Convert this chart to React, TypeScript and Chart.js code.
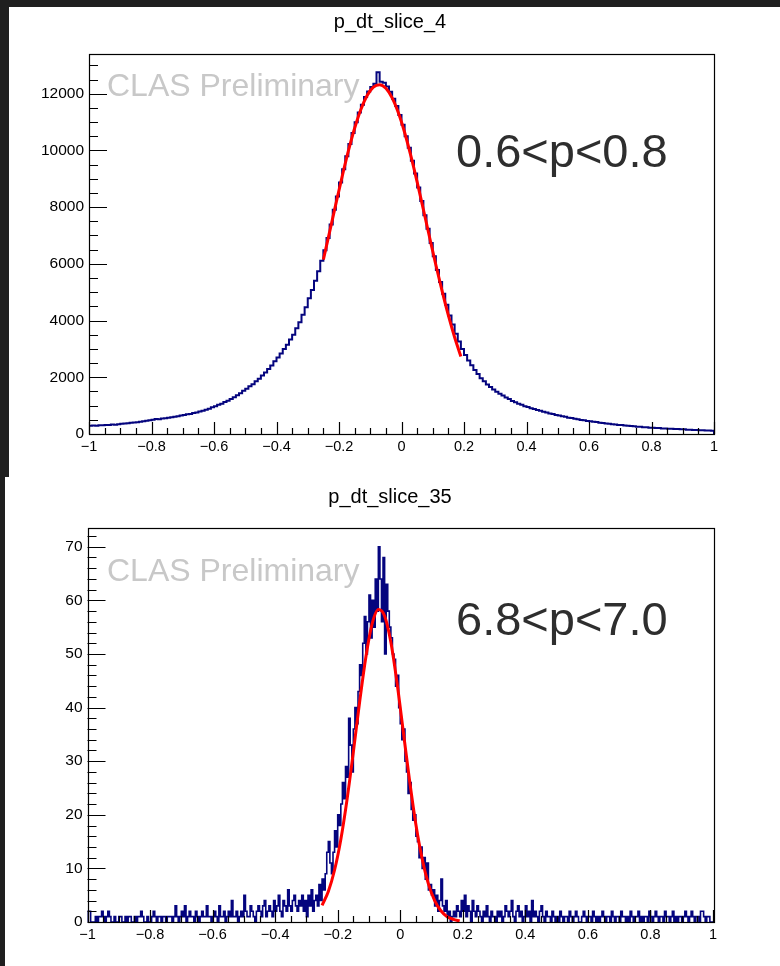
import React, { useEffect, useRef } from "react";
import { Chart, registerables } from "chart.js";

Chart.register(...registerables);

// ---------- data ----------
const X_MIN = -1;
const X_MAX = 1;
const xTickValues = [-1, -0.8, -0.6, -0.4, -0.2, 0, 0.2, 0.4, 0.6, 0.8, 1];

const topTitle = "p_dt_slice_4";
const bottomTitle = "p_dt_slice_35";
const topRangeLabel = "0.6<p<0.8";
const bottomRangeLabel = "6.8<p<7.0";
const watermark = "CLAS Preliminary";

const topYTickValues = [0, 2000, 4000, 6000, 8000, 10000, 12000];
const bottomYTickValues = [0, 10, 20, 30, 40, 50, 60, 70];
const topYMax = 13400;
const bottomYMax = 73.5;

// top histogram: 200 bins from -1 to 1
const topCounts = [
  288, 302, 295, 312, 306, 321, 314, 333, 327, 348,
  358, 371, 383, 394, 405, 418, 433, 451, 466, 489,
  503, 527, 519, 546, 558, 575, 588, 608, 627, 650,
  668, 693, 709, 738, 756, 793, 818, 853, 892, 942,
  982, 1034, 1068, 1128, 1176, 1238, 1297, 1369, 1436, 1522,
  1598, 1684, 1755, 1856, 1946, 2063, 2166, 2296, 2414, 2565,
  2702, 2838, 2996, 3143, 3328, 3502, 3726, 3944, 4208, 4474,
  4783, 5076, 5408, 5742, 6112, 6476, 6908, 7392, 7908, 8376,
  8866, 9332, 9798, 10226, 10618, 10992, 11338, 11612, 11886, 12074,
  12238, 12352, 12760, 12418, 12386, 12254, 12068, 11822, 11568, 11246,
  10906, 10502, 10098, 9634, 9188, 8694, 8216, 7712, 7238, 6736,
  6268, 5784, 5356, 4944, 4558, 4176, 3858, 3534, 3266, 2998,
  2786, 2594, 2428, 2254, 2116, 1964, 1856, 1744, 1656, 1566,
  1492, 1418, 1356, 1284, 1236, 1166, 1124, 1066, 1028, 982,
  952, 912, 884, 846, 818, 782, 758, 722, 704, 668,
  652, 622, 604, 576, 562, 536, 524, 498, 488, 462,
  452, 428, 420, 398, 392, 372, 362, 344, 338, 318,
  316, 298, 294, 278, 274, 258, 254, 240, 238, 224,
  224, 212, 212, 198, 198, 186, 186, 174, 174, 164,
  164, 154, 152, 144, 142, 132, 130, 122, 120, 112,
];

// bottom histogram: 400 bins from -1 to 1
const bottomCounts = [
  // -1.00 .. -0.32
  2, 2, 0, 0, 0, 1, 0, 1, 1, 2, 1, 0, 1, 2, 1, 0, 0, 1, 0, 0,
  1, 1, 0, 0, 1, 0, 1, 1, 0, 0, 1, 0, 1, 1, 2, 1, 0, 0, 1, 0,
  0, 1, 2, 1, 0, 1, 1, 0, 1, 1, 0, 1, 1, 1, 0, 1, 3, 1, 0, 1,
  2, 1, 3, 0, 1, 2, 1, 1, 0, 2, 1, 0, 1, 2, 1, 1, 3, 1, 1, 0,
  1, 2, 1, 0, 3, 1, 1, 2, 0, 1, 2, 1, 4, 1, 1, 2, 0, 1, 2, 1,
  5, 2, 1, 1, 3, 2, 1, 0, 2, 3, 2, 1, 3, 4, 1, 2, 3, 2, 1, 4,
  2, 3, 5, 2, 1, 4, 3, 2, 6, 3, 2, 4, 5, 3, 2, 4,
  // -0.32 .. 0.32
  3, 5, 2, 4, 1, 5, 3, 6, 2, 4,
  5, 3, 7, 4, 8, 6, 9, 13, 15, 11,
  9, 13, 17, 14, 20, 18, 22, 26, 23, 29,
  27, 38, 33, 28, 36, 40, 37, 43, 48, 46,
  52, 57, 50, 56, 61, 53, 60, 55, 64, 58,
  70, 64, 56, 68, 50, 63, 58, 55, 53, 50,
  49, 44, 46, 40, 37, 34, 36, 30, 28, 24,
  26, 21, 19, 20, 16, 15, 12, 14, 10, 12,
  8, 11, 6, 7, 5, 6, 3, 5, 2, 4,
  8, 3, 2, 4, 1, 2, 0, 1, 2, 1,
  3, 2, 1, 4, 2, 5, 1, 3, 2, 0,
  4, 2, 1, 3, 2, 1, 0, 2, 1, 3,
  1, 0, 2, 1, 1, 0, 2, 1,
  // 0.32 .. 1.00
  2, 0, 1, 3, 2, 1, 2, 4, 1, 0, 2, 3, 1, 2, 0, 1,
  3, 1, 2, 0, 4, 1, 2, 1, 0, 2, 3, 1, 0, 2, 1, 1, 0, 2, 1, 0,
  1, 0, 2, 1, 0, 1, 1, 0, 2, 1, 0, 1, 2, 1, 0, 0, 1, 2, 1, 0,
  1, 1, 0, 2, 1, 0, 1, 0, 1, 2, 1, 0, 1, 1, 0, 2, 1, 0, 1, 1,
  0, 2, 1, 1, 0, 1, 0, 2, 1, 0, 1, 1, 2, 0, 1, 0, 1, 1, 0, 2,
  1, 0, 1, 2, 1, 0, 1, 1, 0, 2, 1, 1, 0, 1, 2, 0, 1, 0, 1, 1,
  0, 1, 2, 1, 0, 1, 2, 1, 0, 1, 1, 0, 2, 2, 1, 0, 1, 1, 0, 0,
];

const topFitX = [
  -0.25, -0.23, -0.21, -0.19, -0.17, -0.15, -0.13, -0.11, -0.09, -0.07, -0.05, -0.03,
  -0.01, 0.01, 0.03, 0.05, 0.07, 0.09, 0.11, 0.13, 0.15, 0.17, 0.19,
];
const topFitY = [
  6150, 7127, 8114, 9077, 9981, 10781, 11444, 11936, 12233, 12320, 12190, 11853,
  11325, 10631, 9807, 8889, 7917, 6929, 5959, 5035, 4180, 3410, 2734,
];

const bottomFitX = [
  -0.25, -0.23, -0.21, -0.19, -0.17, -0.15, -0.13, -0.11, -0.09, -0.07, -0.05, -0.03,
  -0.01, 0.01, 0.03, 0.05, 0.07, 0.09, 0.11, 0.13, 0.15, 0.17, 0.19,
];
const bottomFitY = [
  3.1, 5.7, 9.7, 15.4, 22.9, 31.7, 41.0, 49.4, 55.6, 58.3, 57.1, 52.2,
  44.5, 35.4, 26.3, 18.2, 11.8, 7.1, 4.0, 2.1, 1.0, 0.5, 0.2,
];

// ---------- styling ----------
const FONT = "'Liberation Sans', Arial, Helvetica, sans-serif";
const HIST_COLOR = "#04047e";
const FIT_COLOR = "#ff0000";
const BG_DARK = "#1f1f1f";

function histPoints(counts: number[]) {
  const n = counts.length;
  const w = (X_MAX - X_MIN) / n;
  const pts: { x: number; y: number }[] = [{ x: X_MIN, y: 0 }];
  counts.forEach((c, i) => pts.push({ x: X_MIN + i * w, y: c }));
  pts.push({ x: X_MAX, y: counts[n - 1] });
  pts.push({ x: X_MAX, y: 0 });
  return pts;
}

function fmtX(v: number) {
  const r = Math.round(v * 10) / 10;
  const s = String(Math.abs(r));
  return r < 0 ? "\u2212" + s : s;
}

type Panel = {
  pageX: number;
  pageY: number;
  width: number;
  height: number;
  padTop: number;
  padRight: number;
  yAxisW: number;
  xAxisH: number;
  counts: number[];
  histWidth: number;
  fitX: number[];
  fitY: number[];
  yMax: number;
  yTicks: number[];
  yMajor: number;
  yMinor: number;
  title: string;
  titleY: number;
  rangeLabel: string;
  rangeBaseline: number;
  markBaseline: number;
};

const panels: Panel[] = [
  {
    pageX: 9, pageY: 7, width: 771, height: 470,
    padTop: 47, padRight: 66, yAxisW: 80, xAxisH: 43,
    counts: topCounts, histWidth: 2, fitX: topFitX, fitY: topFitY,
    yMax: topYMax, yTicks: topYTickValues, yMajor: 2000, yMinor: 500,
    title: topTitle, titleY: 22, rangeLabel: topRangeLabel, rangeBaseline: 167, markBaseline: 96,
  },
  {
    pageX: 5, pageY: 477, width: 775, height: 489,
    padTop: 51, padRight: 67, yAxisW: 82.5, xAxisH: 44,
    counts: bottomCounts, histWidth: 1.6, fitX: bottomFitX, fitY: bottomFitY,
    yMax: bottomYMax, yTicks: bottomYTickValues, yMajor: 10, yMinor: 2,
    title: bottomTitle, titleY: 497, rangeLabel: bottomRangeLabel, rangeBaseline: 635, markBaseline: 581,
  },
];

function makeDecor(p: Panel) {
  return {
    id: "rootDecor",
    afterDraw(chart: any) {
      const ctx: CanvasRenderingContext2D = chart.ctx;
      const { left, right, top, bottom } = chart.chartArea;
      const xs = chart.scales.x;
      const ys = chart.scales.y;
      ctx.save();
      ctx.strokeStyle = "#000";
      ctx.lineWidth = 1.2;
      ctx.strokeRect(Math.round(left) + 0.5, Math.round(top) + 0.5, Math.round(right - left), Math.round(bottom - top));
      ctx.beginPath();
      const nx = Math.round((X_MAX - X_MIN) / 0.05);
      for (let k = 0; k <= nx; k++) {
        const v = X_MIN + k * 0.05;
        const px = Math.round(xs.getPixelForValue(v)) + 0.5;
        const len = k % 4 === 0 ? 12 : 6;
        ctx.moveTo(px, bottom);
        ctx.lineTo(px, bottom - len);
      }
      const ny = Math.floor(p.yMax / p.yMinor + 1e-9);
      const ratio = Math.round(p.yMajor / p.yMinor);
      for (let k = 0; k <= ny; k++) {
        const v = k * p.yMinor;
        const py = Math.round(ys.getPixelForValue(v)) + 0.5;
        const len = k % ratio === 0 ? 18 : 9;
        ctx.moveTo(left, py);
        ctx.lineTo(left + len, py);
      }
      ctx.stroke();

      // page-coordinate texts
      ctx.translate(-p.pageX, -p.pageY);
      ctx.fillStyle = "#000";
      ctx.font = `20px ${FONT}`;
      ctx.textAlign = "center";
      ctx.textBaseline = "middle";
      ctx.fillText(p.title, 390, p.titleY);

      ctx.textAlign = "left";
      ctx.textBaseline = "alphabetic";
      ctx.fillStyle = "#c8c8c8";
      ctx.font = `32px ${FONT}`;
      ctx.fillText(watermark, 107, p.markBaseline);

      ctx.fillStyle = "#2e2e2e";
      ctx.font = `47px ${FONT}`;
      ctx.fillText(p.rangeLabel, 456, p.rangeBaseline);
      ctx.restore();
    },
  };
}

function makeConfig(p: Panel): any {
  return {
    type: "line",
    data: {
      datasets: [
        {
          data: p.fitX.map((x, i) => ({ x, y: p.fitY[i] })),
          borderColor: FIT_COLOR,
          borderWidth: 3,
          pointRadius: 0,
          fill: false,
          cubicInterpolationMode: "monotone",
          order: 1,
        },
        {
          data: histPoints(p.counts),
          borderColor: HIST_COLOR,
          borderWidth: p.histWidth,
          pointRadius: 0,
          fill: false,
          stepped: true,
          order: 2,
        },
      ],
    },
    options: {
      animation: false,
      responsive: false,
      maintainAspectRatio: false,
      events: [],
      layout: { padding: { top: p.padTop, right: p.padRight, left: 0, bottom: 0 } },
      plugins: {
        legend: { display: false },
        tooltip: { enabled: false },
        title: { display: false },
      },
      scales: {
        x: {
          type: "linear",
          min: X_MIN,
          max: X_MAX,
          grid: { display: false, drawTicks: false },
          border: { display: false },
          afterBuildTicks: (s: any) => {
            s.ticks = xTickValues.map((v) => ({ value: v }));
          },
          afterFit: (s: any) => {
            s.height = p.xAxisH;
          },
          ticks: {
            padding: 4,
            color: "#000",
            maxRotation: 0,
            autoSkip: false,
            font: { family: FONT, size: 14.5 },
            callback: (v: number) => fmtX(v),
          },
        },
        y: {
          type: "linear",
          min: 0,
          max: p.yMax,
          grid: { display: false, drawTicks: false },
          border: { display: false },
          afterBuildTicks: (s: any) => {
            s.ticks = p.yTicks.map((v) => ({ value: v }));
          },
          afterFit: (s: any) => {
            s.width = p.yAxisW;
          },
          ticks: {
            padding: 5,
            color: "#000",
            autoSkip: false,
            font: { family: FONT, size: 15.5 },
            callback: (v: number) => String(v),
          },
        },
      },
    },
    plugins: [makeDecor(p)],
  };
}

function PanelChart({ p }: { p: Panel }) {
  const ref = useRef<HTMLCanvasElement | null>(null);
  useEffect(() => {
    if (!ref.current) return;
    const chart = new Chart(ref.current, makeConfig(p));
    return () => chart.destroy();
  }, [p]);
  return (
    <div
      style={{
        position: "absolute",
        left: p.pageX,
        top: p.pageY,
        width: p.width,
        height: p.height,
        background: "#fff",
      }}
    >
      <canvas ref={ref} width={p.width} height={p.height} style={{ display: "block", width: p.width, height: p.height }} />
    </div>
  );
}

export default function App() {
  return (
    <div
      style={{
        position: "absolute",
        left: 0,
        top: 0,
        width: 780,
        height: 966,
        background: BG_DARK,
        overflow: "hidden",
      }}
    >
      {panels.map((p, i) => (
        <PanelChart key={i} p={p} />
      ))}
    </div>
  );
}
